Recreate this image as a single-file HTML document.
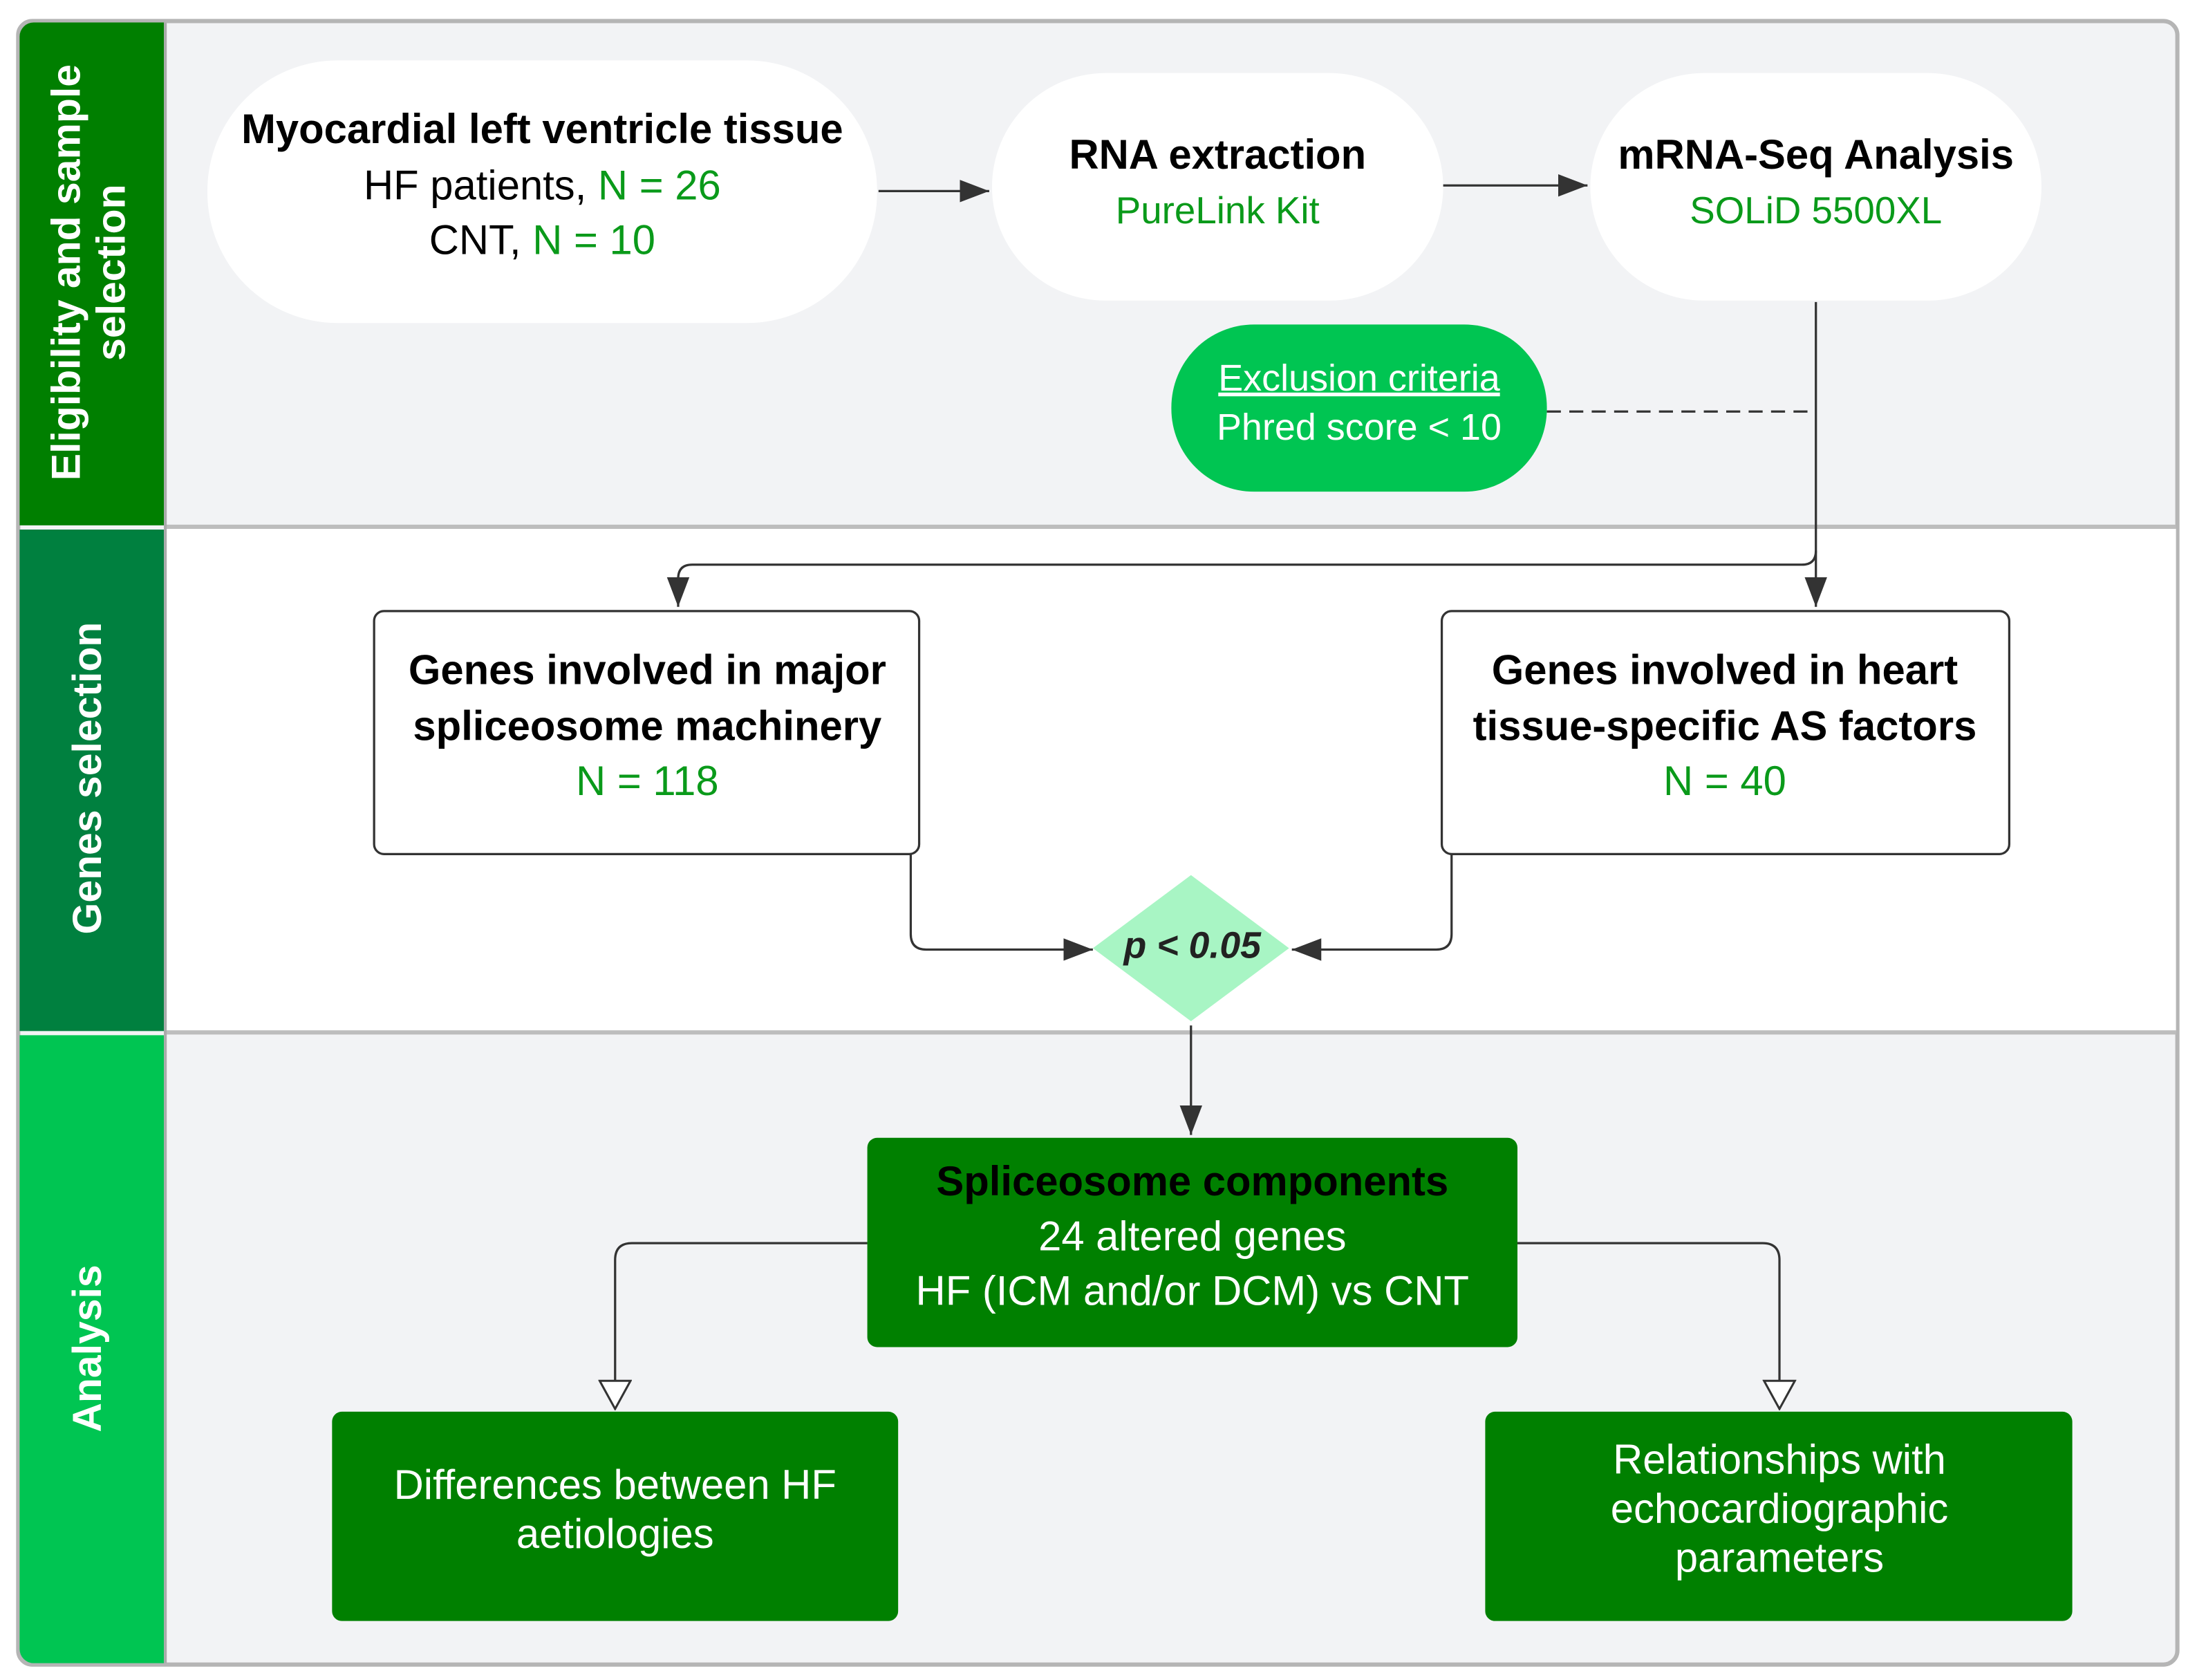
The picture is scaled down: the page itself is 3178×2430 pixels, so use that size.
<!DOCTYPE html>
<html><head><style>
html,body{margin:0;padding:0;background:#fff;}
svg{display:block;}
text{font-family:"Liberation Sans",Arial,sans-serif;}
</style></head><body>
<svg width="3178" height="2430" viewBox="0 0 1568 1196" preserveAspectRatio="none" xmlns="http://www.w3.org/2000/svg">
<defs>
<marker id="ab" markerWidth="22" markerHeight="18" refX="21" refY="9" orient="auto" markerUnits="userSpaceOnUse"><path d="M0,1 L21,9 L0,17 z" fill="#333"/></marker>
<marker id="ho" markerWidth="22" markerHeight="24" refX="21" refY="12" orient="auto" markerUnits="userSpaceOnUse"><path d="M1,1 L21,12 L1,23 z" fill="#fff" stroke="#333" stroke-width="1.5"/></marker>
</defs>
<rect x="0" y="0" width="1568" height="1196" fill="#fff"/>
<rect x="13" y="15" width="1541" height="1170" rx="10" fill="#f2f3f5" stroke="#b5b5b5" stroke-width="3"/>
<rect x="117" y="376" width="1436" height="359" fill="#fff"/>
<line x1="117" y1="375" x2="1553" y2="375" stroke="#bdbdbd" stroke-width="3"/>
<line x1="117" y1="735" x2="1553" y2="735" stroke="#bdbdbd" stroke-width="3"/>
<path d="M24,16 H117 V374 H14 V26 a10,10 0 0 1 10,-10z" fill="#007f00"/>
<rect x="14" y="377" width="103" height="357" fill="#00803f"/>
<path d="M14,737 H117 V1184 H24 a10,10 0 0 1 -10,-10z" fill="#00c552"/>
<line x1="118" y1="16" x2="118" y2="1184" stroke="#aaa" stroke-width="2"/>
<g fill="#fff" font-weight="bold" font-size="29" text-anchor="middle">
<text transform="translate(57,194) rotate(-90)">Eligibility and sample</text>
<text transform="translate(89,194) rotate(-90)">selection</text>
<text transform="translate(72,554) rotate(-90)">Genes selection</text>
<text transform="translate(72,960) rotate(-90)">Analysis</text>
</g>
<rect x="148" y="43" width="478" height="187" rx="93" fill="#fff"/>
<rect x="708" y="52" width="322" height="162" rx="81" fill="#fff"/>
<rect x="1135" y="52" width="322" height="162" rx="81" fill="#fff"/>
<rect x="836" y="231" width="268" height="119" rx="59" fill="#00c552"/>
<g font-size="29.5" text-anchor="middle">
<text x="387" y="102" font-weight="bold">Myocardial left ventricle tissue</text>
<text x="387" y="142">HF patients, <tspan fill="#0a9a1a">N = 26</tspan></text>
<text x="387" y="181">CNT, <tspan fill="#0a9a1a">N = 10</tspan></text>
<text x="869" y="120" font-weight="bold">RNA extraction</text>
<text x="869" y="159" fill="#0a9a1a" font-size="27">PureLink Kit</text>
<text x="1296" y="120" font-weight="bold">mRNA-Seq Analysis</text>
<text x="1296" y="159" fill="#0a9a1a" font-size="27">SOLiD 5500XL</text>
<text x="970" y="278" fill="#fff" font-size="26.6" text-decoration="underline">Exclusion criteria</text>
<text x="970" y="313" fill="#fff" font-size="26.6">Phred score &lt; 10</text>
</g>
<g stroke="#333" stroke-width="1.6" fill="none">
<line x1="627" y1="136" x2="706" y2="136" marker-end="url(#ab)"/>
<line x1="1030" y1="132" x2="1133" y2="132" marker-end="url(#ab)"/>
<line x1="1104" y1="293" x2="1296" y2="293" stroke-dasharray="10,6"/>
<line x1="1296" y1="215" x2="1296" y2="432" marker-end="url(#ab)"/>
<path d="M1296,392 Q1296,402 1286,402 H494 Q484,402 484,412 V432" marker-end="url(#ab)"/>
<path d="M650,608 V665 Q650,676 661,676 H780" marker-end="url(#ab)"/>
<path d="M1036,608 V665 Q1036,676 1025,676 H922" marker-end="url(#ab)"/>
<line x1="850" y1="730" x2="850" y2="808" marker-end="url(#ab)"/>
<path d="M619,885 H451 Q439,885 439,897 V1003" marker-end="url(#ho)"/>
<path d="M1083,885 H1258 Q1270,885 1270,897 V1003" marker-end="url(#ho)"/>
</g>
<rect x="267" y="435" width="389" height="173" rx="7" fill="#fff" stroke="#333" stroke-width="1.6"/>
<rect x="1029" y="435" width="405" height="173" rx="7" fill="#fff" stroke="#333" stroke-width="1.6"/>
<path d="M850,623 L920,675 L850,727 L780,675 z" fill="#a8f5c4"/>
<rect x="619" y="810" width="464" height="149" rx="7" fill="#008000"/>
<rect x="237" y="1005" width="404" height="149" rx="7" fill="#008000"/>
<rect x="1060" y="1005" width="419" height="149" rx="7" fill="#008000"/>
<g font-size="29.5" text-anchor="middle">
<text x="462" y="487" font-weight="bold">Genes involved in major</text>
<text x="462" y="527" font-weight="bold">spliceosome machinery</text>
<text x="462" y="566" fill="#0a9a1a">N = 118</text>
<text x="1231" y="487" font-weight="bold">Genes involved in heart</text>
<text x="1231" y="527" font-weight="bold">tissue-specific AS factors</text>
<text x="1231" y="566" fill="#0a9a1a">N = 40</text>
<text x="851" y="682" font-weight="bold" font-style="italic" font-size="26.5" fill="#222">p &lt; 0.05</text>
<text x="851" y="851" font-weight="bold">Spliceosome components</text>
<text x="851" y="890" fill="#fff">24 altered genes</text>
<text x="851" y="929" fill="#fff">HF (ICM and/or DCM) vs CNT</text>
<text x="439" y="1067" fill="#fff">Differences between HF</text>
<text x="439" y="1102" fill="#fff">aetiologies</text>
<text x="1270" y="1049" fill="#fff">Relationships with</text>
<text x="1270" y="1084" fill="#fff">echocardiographic</text>
<text x="1270" y="1119" fill="#fff">parameters</text>
</g>
</svg>
</body></html>
